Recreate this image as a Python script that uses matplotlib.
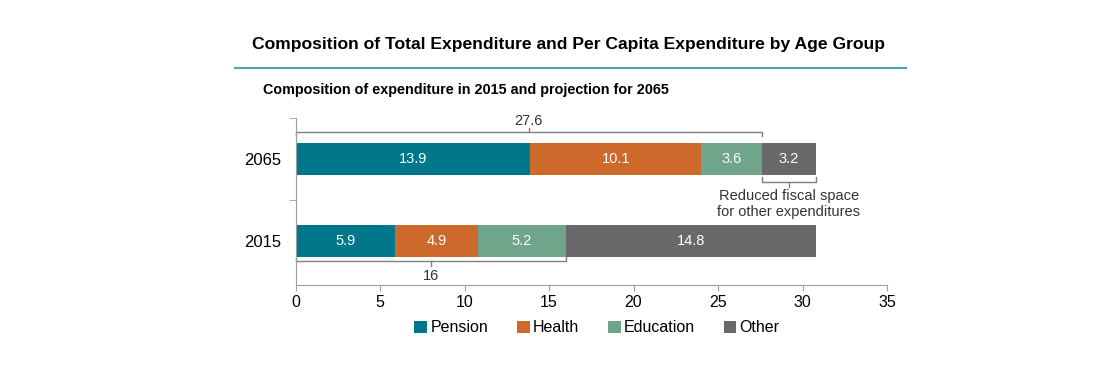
import numpy as np
import matplotlib.pyplot as plt
from matplotlib.patches import Patch

plt.rcParams['font.family'] = ['Liberation Sans', 'DejaVu Sans']

years = ['2015', '2065']
categories = ['Pension', 'Health', 'Education', 'Other']
values = {
    'Pension': [5.9, 13.9],
    'Health': [4.9, 10.1],
    'Education': [5.2, 3.6],
    'Other': [14.8, 3.2],
}
colors = ['#00778a', '#cc692b', '#70a48b', '#69696b']
bracket_2065 = 27.6
bracket_2015 = 16
note = 'Reduced fiscal space\nfor other expenditures'

fig = plt.figure(figsize=(11.2, 3.78), dpi=100)
ax = fig.add_axes([295.5 / 1120, 1 - 285 / 378, (887 - 295.5) / 1120, 167 / 378])

y = np.arange(len(years))
left = np.zeros(len(years))
for cat, col in zip(categories, colors):
    v = np.array(values[cat])
    ax.barh(y, v, left=left, height=0.4, color=col, edgecolor='none')
    for yi, (l, w) in enumerate(zip(left, v)):
        ax.text(l + w / 2, yi, f'{w:.1f}', ha='center', va='center',
                color='white', fontsize=10.5)
    left = left + v

ax.set_xlim(0, 35)
ax.set_ylim(-0.537, 1.5)
ax.set_xticks(range(0, 36, 5))
ax.set_yticks(y)
ax.set_yticklabels(years, fontsize=12)
ax.set_yticks([0.5, 1.5], minor=True)
ax.tick_params(axis='y', which='major', length=0, pad=10)
ax.tick_params(axis='y', which='minor', length=5, color='#a0a0a0')
ax.tick_params(axis='x', length=4, color='#a0a0a0', labelsize=11.5, pad=3)
for s in ['top', 'right']:
    ax.spines[s].set_visible(False)
for s in ['left', 'bottom']:
    ax.spines[s].set_color('#a0a0a0')

bc = '#7f7f7f'


def bracket(x0, x1, yb, d, label, ly, va):
    ax.plot([x0, x0, x1, x1], [yb + d, yb, yb, yb + d], color=bc, lw=1,
            clip_on=False)
    xm = (x0 + x1) / 2
    ax.plot([xm, xm], [yb, yb - d], color=bc, lw=1, clip_on=False)
    ax.text(xm, ly, label, ha='center', va=va, fontsize=10.5, color='#333333')


# above 2065
bracket(0, bracket_2065, 1.33, -0.05, f'{bracket_2065}', 1.38, 'bottom')
# below 2015
bracket(0, bracket_2015, -0.25, 0.05, f'{bracket_2015}', -0.34, 'top')
# under "Other" 2065
other_start = bracket_2065
other_end = sum(values[c][1] for c in categories)
bracket(other_start, other_end, 0.72, 0.06, note, 0.64, 'top')

fig.text(568 / 1120, 1 - 45 / 378,
         'Composition of Total Expenditure and Per Capita Expenditure by Age Group',
         ha='center', va='center', fontsize=12.6, fontweight='bold')
fig.add_artist(plt.Line2D([235 / 1120, 906 / 1120], [1 - 68 / 378, 1 - 68 / 378],
                          color='#4aa3ae', lw=1.5))
fig.text(263 / 1120, 1 - 90 / 378,
         'Composition of expenditure in 2015 and projection for 2065',
         ha='left', va='center', fontsize=10.4, fontweight='bold')

handles = [Patch(facecolor=c, label=n) for n, c in zip(categories, colors)]
fig.legend(handles=handles, loc='center', bbox_to_anchor=(597 / 1120, 1 - 328 / 378),
           ncol=4, frameon=False, fontsize=11.5, handlelength=0.8, handleheight=0.8,
           handletextpad=0.2, columnspacing=1.8)

fig.savefig('out.png', dpi=100)
